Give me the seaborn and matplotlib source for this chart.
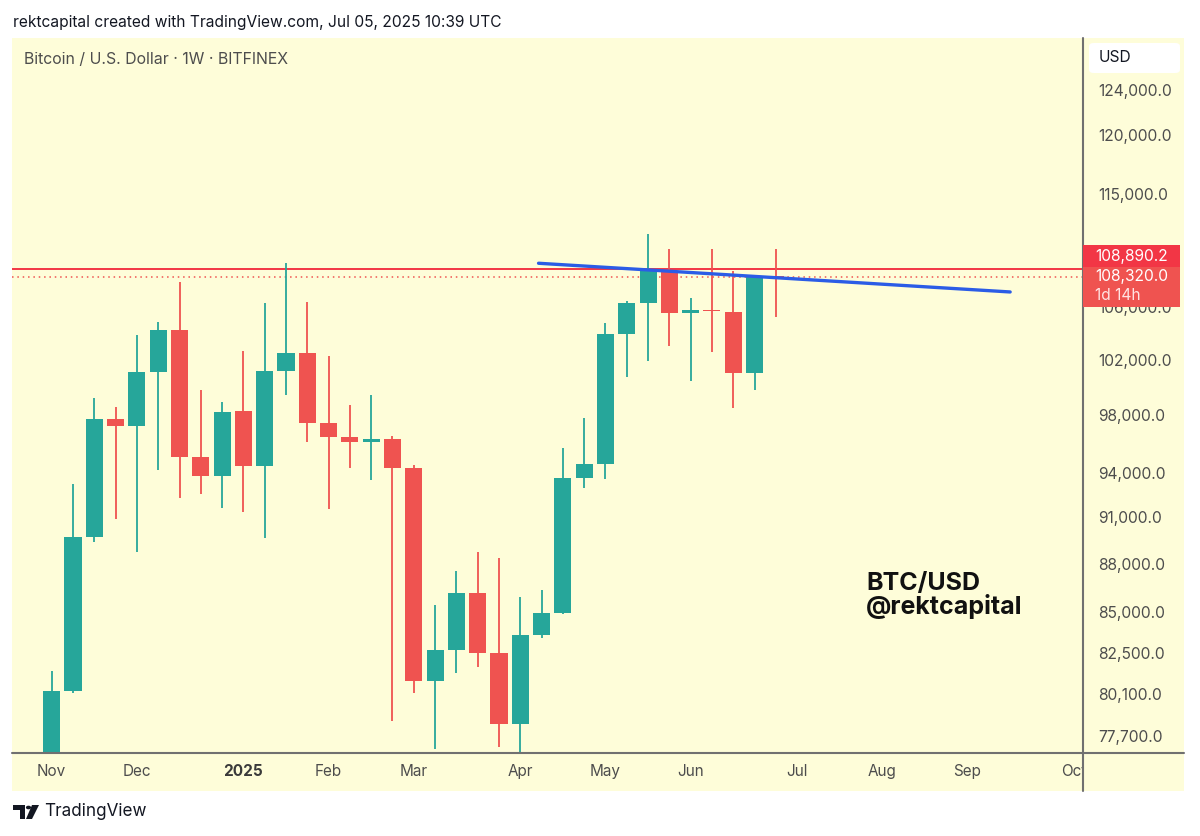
import numpy as np
import pandas as pd
import matplotlib
matplotlib.use("Agg")
import matplotlib.pyplot as plt
import matplotlib.dates as mdates
import matplotlib.ticker as mticker
from matplotlib.patches import Rectangle, FancyBboxPatch, Polygon, Circle
from matplotlib.lines import Line2D
import seaborn as sns

# ---------------- data (weekly BTC/USD candles, BITFINEX) ----------------
week_start = ["2024-11-04", "2024-11-11", "2024-11-18", "2024-11-25", "2024-12-02",
              "2024-12-09", "2024-12-16", "2024-12-23", "2024-12-30", "2025-01-06",
              "2025-01-13", "2025-01-20", "2025-01-27", "2025-02-03", "2025-02-10",
              "2025-02-17", "2025-02-24", "2025-03-03", "2025-03-10", "2025-03-17",
              "2025-03-24", "2025-03-31", "2025-04-07", "2025-04-14", "2025-04-21",
              "2025-04-28", "2025-05-05", "2025-05-12", "2025-05-19", "2025-05-26",
              "2025-06-02", "2025-06-09", "2025-06-16", "2025-06-23", "2025-06-30"]
opens = [68750, 80250, 89730, 97690, 97220, 101100, 104200, 95060, 93780, 98280,
         94470, 101150, 102500, 97430, 96470, 96100, 96330, 94330, 80850, 82670,
         86170, 82470, 78350, 83570, 84890, 93650, 94560, 103940, 106300, 108770,
         105490, 105740, 105600, 101050, 108390]
highs = [81420, 93200, 99190, 98590, 103840, 104850, 107930, 99770, 98900, 102620,
         106250, 109420, 106380, 102280, 98690, 99430, 96520, 94490, 85380, 87550,
         88740, 88380, 85920, 86340, 95690, 97780, 104770, 106450, 111720, 110540,
         106640, 110540, 108790, 108450, 110540]
lows = [66800, 80150, 89410, 90870, 88740, 94150, 92280, 92570, 91620, 91350,
        89630, 99430, 96080, 91570, 94330, 93470, 78520, 80150, 76950, 81280,
        81670, 77080, 74500, 83370, 84830, 92950, 93580, 100710, 101880, 103000,
        100420, 102550, 98470, 99770, 105180]
closes = [80250, 89730, 97690, 97220, 101100, 104200, 95060, 93780, 98230, 94470,
          101150, 102500, 97430, 96470, 96100, 96330, 94330, 80850, 82670, 86170,
          82470, 78350, 83570, 84890, 93650, 94560, 103940, 106300, 108770, 105490,
          105720, 105640, 101050, 108390, 108320]

trend_dates = ["2025-04-13", "2025-09-15"]
trend_prices = [109380, 107130]

resistance_level = 108890.2
last_price = 108320.0
countdown = "1d 14h"

price_ticks = [77700, 80100, 82500, 85000, 88000, 91000, 94000, 98000,
               102000, 106000, 115000, 120000, 124000]
month_dates = ["2024-11-04", "2024-12-02", "2025-01-06", "2025-02-03", "2025-03-03",
               "2025-04-07", "2025-05-05", "2025-06-02", "2025-07-07", "2025-08-04",
               "2025-09-01", "2025-10-06"]
month_labels = ["Nov", "Dec", "2025", "Feb", "Mar", "Apr", "May", "Jun", "Jul",
                "Aug", "Sep", "Oct"]

# ---------------- style ----------------
sns.set_theme(style="white")
plt.rcParams["font.family"] = ["Inter", "DejaVu Sans"]

GREEN = "#26A69A"
RED = "#EF5350"
RED2 = "#F23645"
BLUE = "#2B5CE6"
BG = "#FEFDD9"
AXC = "#707070"
TXT = "#4d4d4d"

W, H = 1200, 836
fig = plt.figure(figsize=(W / 100, H / 100), dpi=100)
fig.patch.set_facecolor("white")


def fx(x):
    return x / W


def fy(y):
    return 1 - y / H


# panel background
fig.add_artist(Rectangle((fx(12), fy(791)), fx(1184) - fx(12), fy(38) - fy(791),
                         transform=fig.transFigure, facecolor=BG, edgecolor="none", zorder=-5))

ax = fig.add_axes([fx(12), fy(753), fx(1083) - fx(12), fy(38) - fy(753)])
ax.set_facecolor(BG)
ax.set_yscale("log")

x = mdates.date2num(pd.to_datetime(week_start))
o = np.array(opens, float)
h = np.array(highs, float)
l = np.array(lows, float)
c = np.array(closes, float)
cols = np.where(c >= o, GREEN, RED)

# horizontal levels
ax.axhline(resistance_level, color=RED2, lw=1.4, zorder=1.5)
ax.axhline(last_price, color=RED, lw=1.1, ls=(0, (1, 2.5)), zorder=1.5)

# candles
ax.vlines(x, l, h, colors=cols, linewidth=1.3, zorder=2)
bot = np.minimum(o, c)
top = np.maximum(o, c)
ax.bar(x, top - bot, bottom=bot, width=5.6, color=cols, linewidth=0, zorder=3)

# trend line via seaborn
trend_df = pd.DataFrame({"x": mdates.date2num(pd.to_datetime(trend_dates)),
                         "price": trend_prices})
sns.lineplot(data=trend_df, x="x", y="price", ax=ax, color=BLUE, linewidth=2.4,
             zorder=5, legend=False)
ax.set_xlabel("")
ax.set_ylabel("")

x0 = x[0]
ax.set_xlim(x0 - 13.05, x0 + 48.42 * 7)
ax.set_ylim(76724, 128758)

# y ticks on the right
ax.set_yticks(price_ticks)
ax.set_yticklabels([f"{v:,.1f}" for v in price_ticks])
ax.yaxis.set_minor_locator(mticker.NullLocator())
ax.yaxis.tick_right()
ax.tick_params(axis="y", which="both", length=0, pad=11, labelsize=11.2, labelcolor=TXT)

# x ticks
ax.set_xticks(mdates.date2num(pd.to_datetime(month_dates)))
ax.set_xticklabels(month_labels)
ax.tick_params(axis="x", length=0, pad=8, labelsize=11, labelcolor=TXT)
for t in ax.get_xticklabels():
    if t.get_text() == "2025":
        t.set_fontweight("bold")
        t.set_color("#3a3a3a")

for s in ax.spines.values():
    s.set_visible(False)
ax.grid(False)

# cover for the price-axis corner (clips the "Oct" label like the original)
fig.add_artist(Rectangle((fx(1084), fy(791)), fx(1184) - fx(1084), fy(754) - fy(791),
                         transform=fig.transFigure, facecolor=BG, edgecolor="none", zorder=4))

# axis lines
fig.add_artist(Line2D([fx(1083), fx(1083)], [fy(38), fy(791)], transform=fig.transFigure,
                      color=AXC, lw=1.5, zorder=6))
fig.add_artist(Line2D([fx(12), fx(1184)], [fy(753), fy(753)], transform=fig.transFigure,
                      color=AXC, lw=1.5, zorder=6))

# USD box
fig.add_artist(FancyBboxPatch((fx(1089), fy(73)), fx(1180) - fx(1089), fy(43) - fy(73),
                              boxstyle="round,pad=0,rounding_size=0.004",
                              transform=fig.transFigure, facecolor="white",
                              edgecolor="none", zorder=6))
fig.text(fx(1099), fy(58), "USD", fontsize=11.2, color="#131722", va="center", ha="left", zorder=7)

# price labels
fig.add_artist(Rectangle((fx(1083), fy(267)), fx(1180) - fx(1083), fy(245) - fy(267),
                         transform=fig.transFigure, facecolor=RED2, edgecolor="none", zorder=6))
fig.text(fx(1095), fy(256), f"{resistance_level:,.1f}", fontsize=11.2, color="white",
         va="center", ha="left", zorder=7)
fig.add_artist(Rectangle((fx(1083), fy(307)), fx(1180) - fx(1083), fy(267) - fy(307),
                         transform=fig.transFigure, facecolor=RED, edgecolor="none", zorder=6))
fig.text(fx(1095), fy(277), f"{last_price:,.1f}", fontsize=11.2, color="white",
         va="center", ha="left", zorder=7)
fig.text(fx(1095), fy(295), countdown, fontsize=11.2, color="#FFE3E3",
         va="center", ha="left", zorder=7)

# texts
fig.text(fx(13), fy(22), "rektcapital created with TradingView.com, Jul 05, 2025 10:39 UTC",
         fontsize=11.2, color="#131722", va="center", ha="left")
fig.text(fx(24), fy(59), "Bitcoin / U.S. Dollar · 1W · BITFINEX",
         fontsize=11.4, color=TXT, va="center", ha="left")
fig.text(fx(866), fy(590), "BTC/USD", fontsize=18, fontweight="bold", color="#111111",
         va="baseline", ha="left")
fig.text(fx(866), fy(614), "@rektcapital", fontsize=18, fontweight="bold", color="#111111",
         va="baseline", ha="left")

# TradingView logo
logo_T = Polygon([(fx(13), fy(805)), (fx(25), fy(805)), (fx(25), fy(819)), (fx(20), fy(819)),
                  (fx(20), fy(810)), (fx(13), fy(810))], closed=True,
                 transform=fig.transFigure, facecolor="#131722", edgecolor="none")
fig.add_artist(logo_T)
fig.add_artist(Circle((fx(28.5), fy(807.5)), 2.6 / W, transform=fig.transFigure,
                      facecolor="#131722", edgecolor="none"))
fig.add_artist(Polygon([(fx(32), fy(805)), (fx(39), fy(805)), (fx(32), fy(819)),
                        (fx(26), fy(819))], closed=True, transform=fig.transFigure,
                       facecolor="#131722", edgecolor="none"))
fig.text(fx(44), fy(812), "TradingView", fontsize=12.3, color="#131722", va="center", ha="left")

fig.savefig("out.png", dpi=100, facecolor="white")
